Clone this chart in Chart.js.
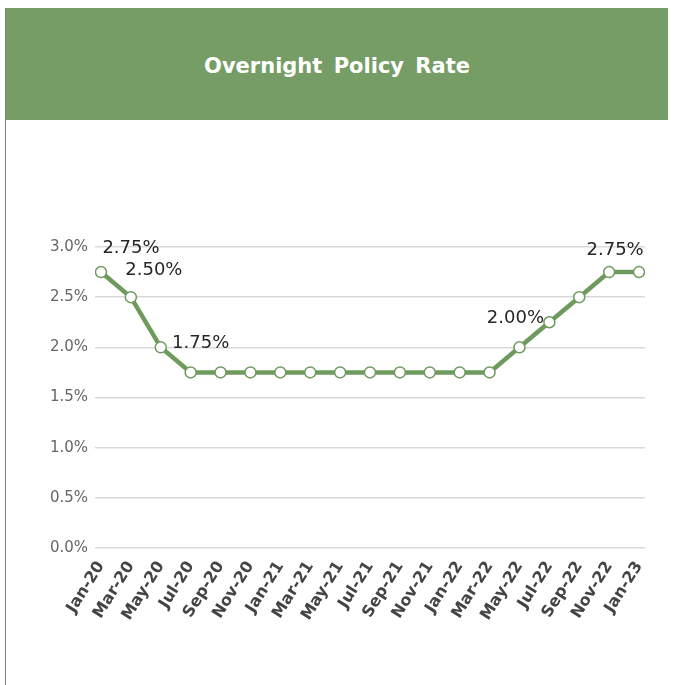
<!DOCTYPE html>
<html>
<head>
<meta charset="utf-8">
<script src="https://cdn.jsdelivr.net/npm/chart.js@4"></script>
<style>
  body { margin: 0; background: #fff; }
  #frame { position: absolute; left: 0; top: 0; width: 678px; height: 685px; overflow: hidden; }
  #band {
    position: absolute; left: 6px; top: 8px; width: 662px; height: 112px;
    background: #769d66; color: #fff;
    font: bold 21px "DejaVu Sans", sans-serif; word-spacing: 4px;
    display: flex; align-items: center; justify-content: center;
    padding-top: 4px; box-sizing: border-box;
  }
  #edge { position: absolute; left: 5px; top: 8px; width: 1px; height: 677px; background: #7f7f7f; }
  #wrap { position: absolute; left: 0; top: 0; width: 678px; height: 685px; }
</style>
</head>
<body>
<div id="frame">
  <div id="band">Overnight Policy Rate</div>
  <div id="edge"></div>
  <div id="wrap"><canvas id="rateChart"></canvas></div>
</div>
<script>
// bi-monthly months and the policy rate (%)
var months = ['Jan-20', 'Mar-20', 'May-20', 'Jul-20', 'Sep-20', 'Nov-20', 'Jan-21', 'Mar-21', 'May-21', 'Jul-21',
              'Sep-21', 'Nov-21', 'Jan-22', 'Mar-22', 'May-22', 'Jul-22', 'Sep-22', 'Nov-22', 'Jan-23'];
var rates = [2.75, 2.50, 2.00, 1.75, 1.75, 1.75, 1.75, 1.75, 1.75, 1.75,
             1.75, 1.75, 1.75, 1.75, 2.00, 2.25, 2.50, 2.75, 2.75];
var yTicks = [0, 0.5, 1.0, 1.5, 2.0, 2.5, 3.0];

// which points carry a value label, and how the label is nudged (px)
var labelIdx = [0, 1, 3, 14, 17];
var labelNudge = [[30, -24], [23, -27], [10, -29], [-4, -29], [6, -22]];

var green = '#6f9a5e';

var pointLabels = {
    id: 'pointLabels',
    afterDatasetsDraw: function(chart) {
        var ctx = chart.ctx;
        var meta = chart.getDatasetMeta(0);
        ctx.save();
        ctx.font = '18px "DejaVu Sans", sans-serif';
        ctx.fillStyle = '#262626';
        ctx.textAlign = 'center';
        ctx.textBaseline = 'middle';
        labelIdx.forEach(function(idx, k) {
            var p = meta.data[idx];
            ctx.fillText(rates[idx].toFixed(2) + '%', p.x + labelNudge[k][0], p.y + labelNudge[k][1]);
        });
        ctx.restore();
    }
};

var ctx = document.getElementById('rateChart').getContext('2d');
var rateChart = new Chart(ctx, {
    type: 'line',
    data: {
        datasets: [{
            data: months.map(function(m, i) { return { x: i, y: rates[i] }; }),
            borderColor: green,
            borderWidth: 4.5,
            pointRadius: 5.5,
            pointBorderWidth: 1.5,
            pointBackgroundColor: '#fff',
            pointBorderColor: green,
            tension: 0
        }]
    },
    options: {
        responsive: true,
        maintainAspectRatio: false,
        animation: false,
        layout: { padding: { top: 247, right: 33, left: 0, bottom: 0 } },
        plugins: { legend: { display: false }, tooltip: { enabled: false } },
        scales: {
            x: {
                type: 'linear',
                min: -0.2,
                max: 18.2,
                afterBuildTicks: function(scale) {
                    scale.ticks = months.map(function(m, i) { return { value: i }; });
                },
                afterFit: function(scale) { scale.height = 137; },
                grid: { display: false },
                border: { display: false },
                ticks: {
                    autoSkip: false,
                    maxRotation: 58,
                    minRotation: 58,
                    padding: 2,
                    color: '#444444',
                    font: { family: 'DejaVu Sans', size: 16, weight: 'bold' },
                    callback: function(v) { return months[v]; }
                }
            },
            y: {
                min: 0,
                max: 3,
                afterBuildTicks: function(scale) {
                    scale.ticks = yTicks.map(function(v) { return { value: v }; });
                },
                afterFit: function(scale) { scale.width = 95; },
                grid: { color: '#d9d9d9', lineWidth: 1.5, drawTicks: false },
                border: { display: false },
                ticks: {
                    padding: 7,
                    color: '#666666',
                    font: { family: 'DejaVu Sans', size: 15 },
                    callback: function(v) { return v.toFixed(1) + '%'; }
                }
            }
        }
    },
    plugins: [pointLabels]
});
</script>
</body>
</html>
